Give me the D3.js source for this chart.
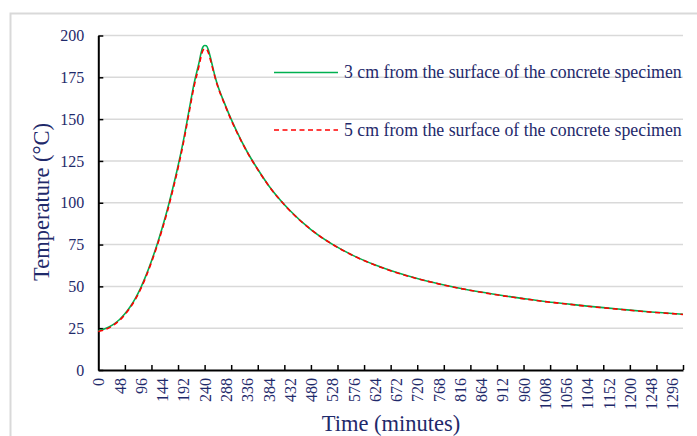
<!DOCTYPE html>
<html>
<head>
<meta charset="utf-8">
<script src="https://cdn.jsdelivr.net/npm/d3@7"></script>
<style>
  html, body { margin: 0; padding: 0; background: #ffffff; }
  svg { display: block; }
  text { font-family: "Palatino Linotype", "Book Antiqua", Palatino, "Liberation Serif", "DejaVu Serif", serif; fill: #1f2a6b; }
</style>
</head>
<body>
<svg id="chart" width="697" height="436"></svg>
<script>
// Temperature inside the concrete specimen during the heating test
const minutes = [0, 12, 24, 36, 48, 60, 72, 84, 96, 108, 120, 132, 144, 156, 168, 180, 192, 204, 216, 228, 232, 236, 240, 244, 248, 252, 258, 264, 288, 312, 336, 360, 384, 432, 480, 528, 576, 624, 672, 720, 768, 816, 864, 912, 960, 1008, 1056, 1104, 1152, 1200, 1248, 1296, 1320];
const temp3cm = [23.5, 24.3, 25.7, 27.6, 30.2, 33.6, 37.8, 43, 49.3, 56.7, 65.2, 74.5, 84.8, 96, 108.5, 122, 137, 154, 171, 184.5, 189.5, 193, 194, 193.8, 191.8, 188, 181.5, 175, 157.5, 143, 130.5, 120, 110.5, 95.5, 84, 75.3, 68.4, 62.9, 58.4, 54.7, 51.6, 48.9, 46.6, 44.5, 42.7, 41, 39.6, 38.2, 37, 35.8, 34.7, 33.8, 33.3];
const temp5cm = [23, 23.8, 25.2, 27.1, 29.7, 33.1, 37.3, 42.4, 48.6, 56, 64.4, 73.6, 83.8, 94.9, 107.3, 120.7, 135.6, 152.5, 169.3, 182.5, 187.5, 191, 192, 191.8, 190, 186.5, 180.5, 174.5, 157, 142.6, 130.3, 119.8, 110.4, 95.4, 84, 75.2, 68.3, 62.8, 58.3, 54.6, 51.5, 48.8, 46.5, 44.4, 42.6, 40.9, 39.5, 38.1, 36.9, 35.7, 34.6, 33.7, 33.2];
const seriesNames = ["3 cm from the surface of the concrete specimen", "5 cm from the surface of the concrete specimen"];
const xLabelTicks = d3.range(0, 1297, 48);
const xMarkTicks = d3.range(60, 1320, 60);
const yTicks = [0, 25, 50, 75, 100, 125, 150, 175, 200];

const svg = d3.select("#chart");
const x = d3.scaleLinear().domain([0, 1320]).range([98.3, 683]);
const y = d3.scaleLinear().domain([0, 200]).range([370, 35.5]);

// outer frame
svg.append("path")
  .attr("d", "M10.5,436 V13.5 H697")
  .attr("fill", "none").attr("stroke", "#d9d9d9").attr("stroke-width", 2);

// horizontal gridlines
svg.append("g").selectAll("line").data(yTicks.filter(d => d > 0)).join("line")
  .attr("x1", x(0)).attr("x2", x(1320))
  .attr("y1", d => y(d)).attr("y2", d => y(d))
  .attr("stroke", "#d9d9d9").attr("stroke-width", 1.5);

// y axis with inward ticks
const yAxis = svg.append("g").attr("transform", `translate(${x(0)},0)`)
  .call(d3.axisLeft(y).tickValues(yTicks).tickSizeInner(-5).tickSizeOuter(0).tickPadding(14));
yAxis.select(".domain").attr("stroke", "#000").attr("stroke-width", 2);
yAxis.selectAll(".tick line").attr("stroke", "#000").attr("stroke-width", 1.5);
yAxis.selectAll(".tick text").style("font-size", "16px").attr("fill", "#1f2a6b");

// x axis: tick marks every 60 min
const xAxis = svg.append("g").attr("transform", `translate(0,${y(0)})`)
  .call(d3.axisBottom(x).tickValues(xMarkTicks.concat([1320])).tickSizeInner(-5).tickSizeOuter(0).tickFormat(""));
xAxis.select(".domain").attr("stroke", "#000").attr("stroke-width", 2);
xAxis.selectAll(".tick line").attr("stroke", "#000").attr("stroke-width", 1.5);

// x labels every 48 min, rotated
const xLab = svg.append("g").attr("transform", `translate(0,${y(0)})`)
  .call(d3.axisBottom(x).tickValues(xLabelTicks).tickSize(0).tickFormat(d3.format("d")));
xLab.select(".domain").remove();
xLab.selectAll(".tick text")
  .style("font-size", "16px")
  .attr("fill", "#1f2a6b")
  .attr("text-anchor", "end")
  .attr("dy", "0.35em")
  .attr("transform", "translate(0,8) rotate(-90)")
  .attr("y", 0).attr("x", 0);

// axis titles
svg.append("text").attr("x", 391).attr("y", 431).attr("text-anchor", "middle")
  .style("font-size", "22.5px").text("Time (minutes)");
svg.append("text").attr("transform", "translate(49,202) rotate(-90)").attr("text-anchor", "middle")
  .style("font-size", "22.5px").text("Temperature (°C)");

// curves
const line = d3.line().x(d => x(d[0])).y(d => y(d[1])).curve(d3.curveMonotoneX);
svg.append("path").datum(minutes.map((m, i) => [m, temp3cm[i]]))
  .attr("d", line).attr("fill", "none").attr("stroke", "#00b050").attr("stroke-width", 1.6);
svg.append("path").datum(minutes.map((m, i) => [m, temp5cm[i]]))
  .attr("d", line).attr("fill", "none").attr("stroke", "#ff0000").attr("stroke-width", 1.6)
  .attr("stroke-dasharray", "5,3.5");

// legend
const legend = [
  { name: seriesNames[0], color: "#00b050", dash: null, y: 72.5 },
  { name: seriesNames[1], color: "#ff0000", dash: "5,3.5", y: 130 }
];
legend.forEach(l => {
  svg.append("line").attr("x1", 274).attr("x2", 338).attr("y1", l.y).attr("y2", l.y)
    .attr("stroke", l.color).attr("stroke-width", 1.6).attr("stroke-dasharray", l.dash);
  svg.append("text").attr("x", 344).attr("y", l.y + 5.5).style("font-size", "17.8px").text(l.name);
});
</script>
</body>
</html>
